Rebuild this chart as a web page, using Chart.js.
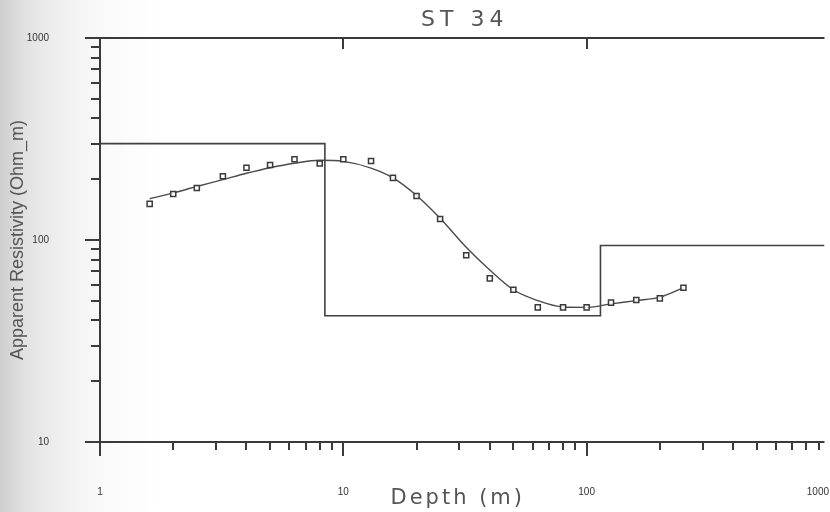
<!DOCTYPE html>
<html>
<head>
<meta charset="utf-8">
<title>ST 34</title>
<script src="https://cdn.jsdelivr.net/npm/chart.js@4.4.1/dist/chart.umd.min.js"></script>
<style>
  html, body { margin: 0; padding: 0; }
  body {
    width: 830px; height: 512px; overflow: hidden;
    background: linear-gradient(90deg, #cecece 0px, #e2e2e2 25px, #f0f0f0 60px, #fafafa 105px, #ffffff 160px);
  }
  canvas { display: block; }
</style>
</head>
<body>
<canvas id="st34" width="830" height="512"></canvas>
<script>
"use strict";

// Sounding: AB/2 (m) against apparent resistivity (Ohm_m)
var depths   = [1.6, 2, 2.5, 3.2, 4, 5, 6.3, 8, 10, 13, 16, 20, 25, 32, 40, 50, 63, 80, 100, 126, 160, 200, 250];
var measured = [151, 169, 181, 207, 228, 235, 251, 239, 251, 246, 203, 165, 127, 84, 64.6, 56.7, 46.4, 46.4, 46.4, 49, 50.5, 51.4, 58];
var fitted   = [160, 171, 184, 199, 214, 228, 240, 248, 245, 227, 203, 166, 128, 92, 71, 56.7, 50.1, 46.6, 46.4, 48.3, 50.1, 52.1, 58];

// Layered model: resistivity of each layer, depth of each layer bottom
var layerRes    = [300, 42.2, 94];
var layerBottom = [8.4, 114];

// Axes
var xTickLabels = [1, 10, 100, 1000];
var yTickLabels = [10, 100, 1000];
var minorSteps  = [2, 3, 4, 5, 6, 7, 8, 9];
var xMin = 1, xMax = 950, yMin = 10, yMax = 1000;

var ink = '#3a3a3a';

// model as step line
var modelPts = [];
var layerTop = xMin;
layerRes.forEach(function (r, i) {
    var bottom = i < layerBottom.length ? layerBottom[i] : xMax;
    modelPts.push({x: layerTop, y: r}, {x: bottom, y: r});
    layerTop = bottom;
});

var fitPts = depths.map(function (d, i) { return {x: d, y: fitted[i]}; });
var obsPts = depths.map(function (d, i) { return {x: d, y: measured[i]}; });

// Frame, tick marks, x labels and titles
var frame = {
    id: 'frame',
    afterDraw: function (chart) {
        var ctx = chart.ctx, a = chart.chartArea;
        var x = chart.scales.x, y = chart.scales.y;

        function seg(x1, y1, x2, y2, w) {
            ctx.lineWidth = w;
            ctx.beginPath();
            ctx.moveTo(x1, y1);
            ctx.lineTo(x2, y2);
            ctx.stroke();
        }

        ctx.save();
        ctx.strokeStyle = ink;
        seg(a.left - 15, a.top, a.right, a.top, 2);
        seg(a.left - 15, a.bottom, a.right, a.bottom, 2);
        seg(a.left, a.top, a.left, a.bottom + 11, 2);

        // x ticks (bottom: major + minor, top: major only)
        xTickLabels.forEach(function (d) {
            [1].concat(minorSteps).forEach(function (m) {
                var v = d * m;
                if (v < xMin || v > xMax) return;
                var px = Math.round(x.getPixelForValue(v));
                if (m === 1) {
                    seg(px, a.bottom, px, a.bottom + 14, 2);
                    if (v > xMin) seg(px, a.top, px, a.top + 11, 2);
                } else {
                    seg(px, a.bottom, px, a.bottom + 8, 2);
                }
            });
        });

        // y ticks
        yTickLabels.forEach(function (d) {
            [1].concat(minorSteps).forEach(function (m) {
                var v = d * m;
                if (v < yMin || v > yMax) return;
                var py = Math.round(y.getPixelForValue(v));
                seg(a.left - (m === 1 ? 15 : 9), py, a.left, py, 2);
            });
        });

        // x tick labels
        ctx.fillStyle = '#333';
        ctx.font = '10px "Liberation Sans", Arial, sans-serif';
        ctx.textAlign = 'center';
        ctx.textBaseline = 'middle';
        xTickLabels.forEach(function (v) {
            var s = String(v);
            var w = ctx.measureText(s).width;
            var px = Math.min(x.getPixelForValue(v), chart.width - w / 2 - 1);
            ctx.fillText(s, px, a.bottom + 50);
        });

        // titles with wide letter spacing
        ctx.fillStyle = '#555';
        ctx.textAlign = 'left';
        ctx.letterSpacing = '5px';
        ctx.font = '22px "DejaVu Sans", sans-serif';
        var t = 'ST 34';
        var tw = ctx.measureText(t).width - 5;
        ctx.fillText(t, (a.left + a.right) / 2 - tw / 2, 20);

        ctx.letterSpacing = '3px';
        ctx.font = '21px "DejaVu Sans", sans-serif';
        var xt = 'Depth (m)';
        var xw = ctx.measureText(xt).width - 3;
        ctx.fillText(xt, (a.left + a.right) / 2 - 6 - xw / 2, a.bottom + 57);
        ctx.restore();
    }
};

new Chart(document.getElementById('st34'), {
    type: 'line',
    data: {
        datasets: [{
            label: 'Model',
            data: modelPts,
            borderColor: '#404040',
            borderWidth: 1.6,
            pointRadius: 0,
            tension: 0,
            order: 3
        }, {
            label: 'Fit',
            data: fitPts,
            borderColor: '#4a4a4a',
            borderWidth: 1.4,
            pointRadius: 0,
            cubicInterpolationMode: 'monotone',
            order: 2
        }, {
            label: 'Measured',
            data: obsPts,
            showLine: false,
            pointStyle: 'rect',
            pointRadius: 3.6,
            pointBackgroundColor: 'rgba(255,255,255,0.9)',
            pointBorderColor: ink,
            pointBorderWidth: 1.5,
            order: 1
        }]
    },
    options: {
        responsive: false,
        animation: false,
        devicePixelRatio: 1,
        layout: {padding: {top: 38, right: 0, bottom: 70, left: 0}},
        plugins: {
            legend: {display: false},
            tooltip: {enabled: false}
        },
        scales: {
            x: {
                type: 'logarithmic',
                min: xMin,
                max: xMax,
                display: false
            },
            y: {
                type: 'logarithmic',
                min: yMin,
                max: yMax,
                grid: {display: false},
                border: {display: false},
                ticks: {
                    autoSkip: false,
                    padding: 43,
                    color: '#333',
                    font: {family: '"Liberation Sans", Arial, sans-serif', size: 10},
                    callback: function (v) {
                        var hit = yTickLabels.find(function (t) { return Math.abs(t - v) < t * 1e-6; });
                        return hit ? String(hit) : '';
                    }
                },
                title: {
                    display: true,
                    text: 'Apparent Resistivity (Ohm_m)',
                    color: '#555',
                    font: {family: '"Liberation Sans", Arial, sans-serif', size: 18},
                    padding: {top: 7, bottom: 0}
                },
                afterFit: function (s) {
                    s.width = 100;
                    // the wide label padding must not push the plot area down
                    s.paddingTop = 0;
                    s.paddingBottom = 0;
                }
            }
        }
    },
    plugins: [frame]
});
</script>
</body>
</html>
